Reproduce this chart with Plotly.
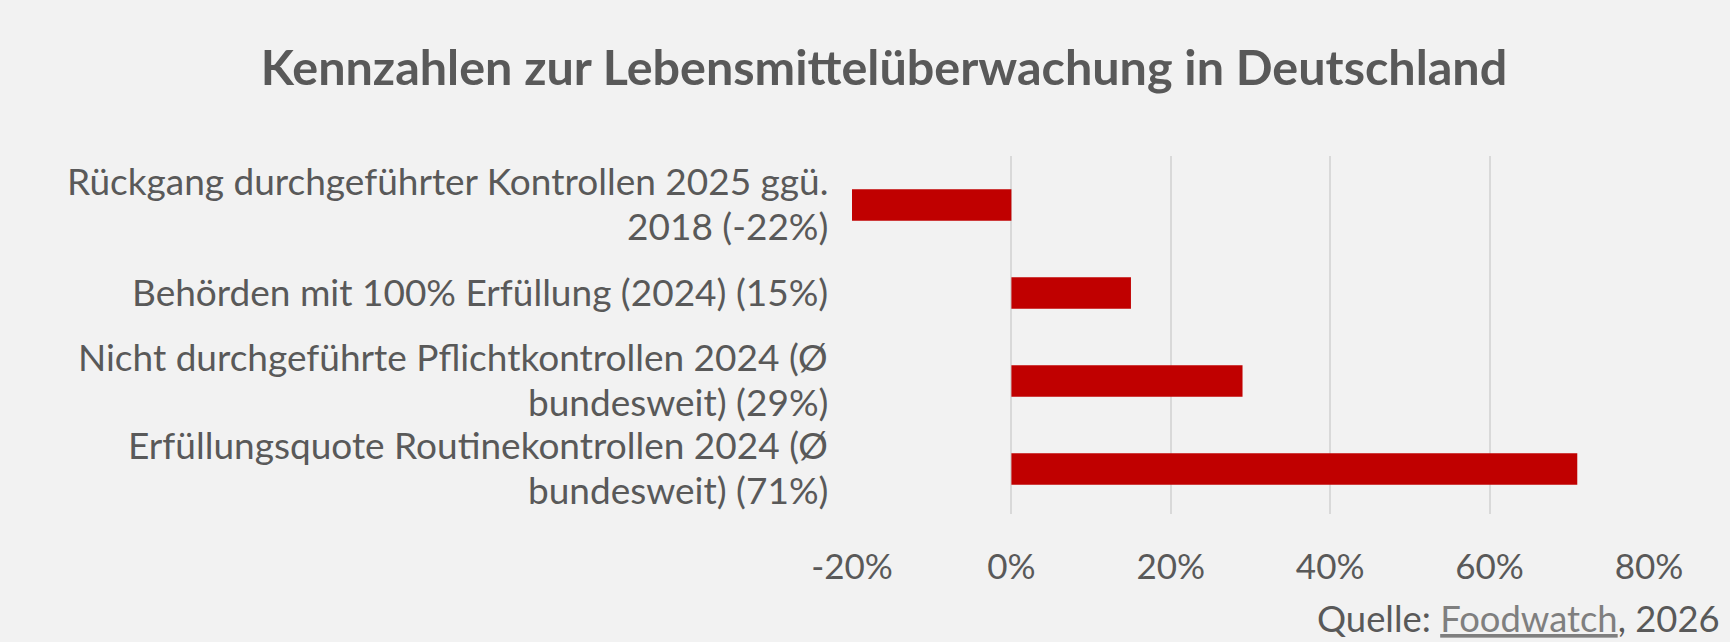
import plotly.graph_objects as go

# data
categories = [
    "Rückgang durchgeführter Kontrollen 2025 ggü.<br>2018 (-22%)",
    "Behörden mit 100% Erfüllung (2024) (15%)",
    "Nicht durchgeführte Pflichtkontrollen 2024 (Ø<br>bundesweit) (29%)",
    "Erfüllungsquote Routinekontrollen 2024 (Ø<br>bundesweit) (71%)",
]
values = [-0.22, 0.15, 0.29, 0.71]
x_ticks = [-0.2, 0.0, 0.2, 0.4, 0.6, 0.8]
x_tick_labels = ["-20%", "0%", "20%", "40%", "60%", "80%"]

bg = "#f2f2f2"
text_grey = "#595959"

fig = go.Figure()

fig.add_trace(go.Bar(
    x=values,
    y=categories,
    orientation="h",
    marker=dict(color="#c00000", line=dict(width=0)),
    hoverinfo="x+y",
))

# category labels as annotations so the line spacing can be kept tight (Excel-like)
line_gap = 45
annotations = []
for cat in categories:
    lines = cat.split("<br>")
    n = len(lines)
    for i, line in enumerate(lines):
        annotations.append(dict(
            text=line,
            xref="paper", yref="y",
            x=0, y=cat,
            xanchor="right", yanchor="middle",
            xshift=-22,
            yshift=((n - 1) / 2 - i) * line_gap + 2,
            showarrow=False,
            font=dict(family="Lato", size=37, color=text_grey),
        ))

annotations.append(dict(
    text='Quelle: <a href="https://www.foodwatch.org" style="color:#7f7f7f"><u>Foodwatch</u></a>, 2026',
    xref="paper", yref="paper",
    x=(1722 - 852) / (1649 - 852), xanchor="right",
    y=-(618 - 514) / (514 - 156), yanchor="middle",
    showarrow=False,
    font=dict(family="Lato", size=36.4, color=text_grey),
))

fig.update_layout(
    width=1730,
    height=642,
    paper_bgcolor=bg,
    plot_bgcolor=bg,
    font=dict(family="Lato", color=text_grey, size=35),
    margin=dict(l=852, r=81, t=156, b=128),
    bargap=0.64,
    showlegend=False,
    title=dict(
        text="<b>Kennzahlen zur Lebensmittelüberwachung in Deutschland</b>",
        font=dict(family="Lato", size=48.5, color=text_grey),
        x=0.511, xanchor="center",
        y=1 - 68 / 642, yanchor="middle",
    ),
    xaxis=dict(
        range=[-0.2, 0.8],
        tickvals=x_ticks,
        ticktext=x_tick_labels,
        showgrid=True,
        gridcolor="#d9d9d9",
        gridwidth=2,
        zeroline=False,
        showline=False,
        ticks="outside",
        ticklen=22,
        tickcolor=bg,
        fixedrange=True,
    ),
    yaxis=dict(
        categoryorder="array",
        categoryarray=categories[::-1],
        showgrid=False,
        zeroline=False,
        showline=False,
        showticklabels=False,
        fixedrange=True,
    ),
    annotations=annotations,
)

fig.write_html(
    "out.html",
    config={"displayModeBar": False},
    post_script="document.body.style.margin='0';",
)
